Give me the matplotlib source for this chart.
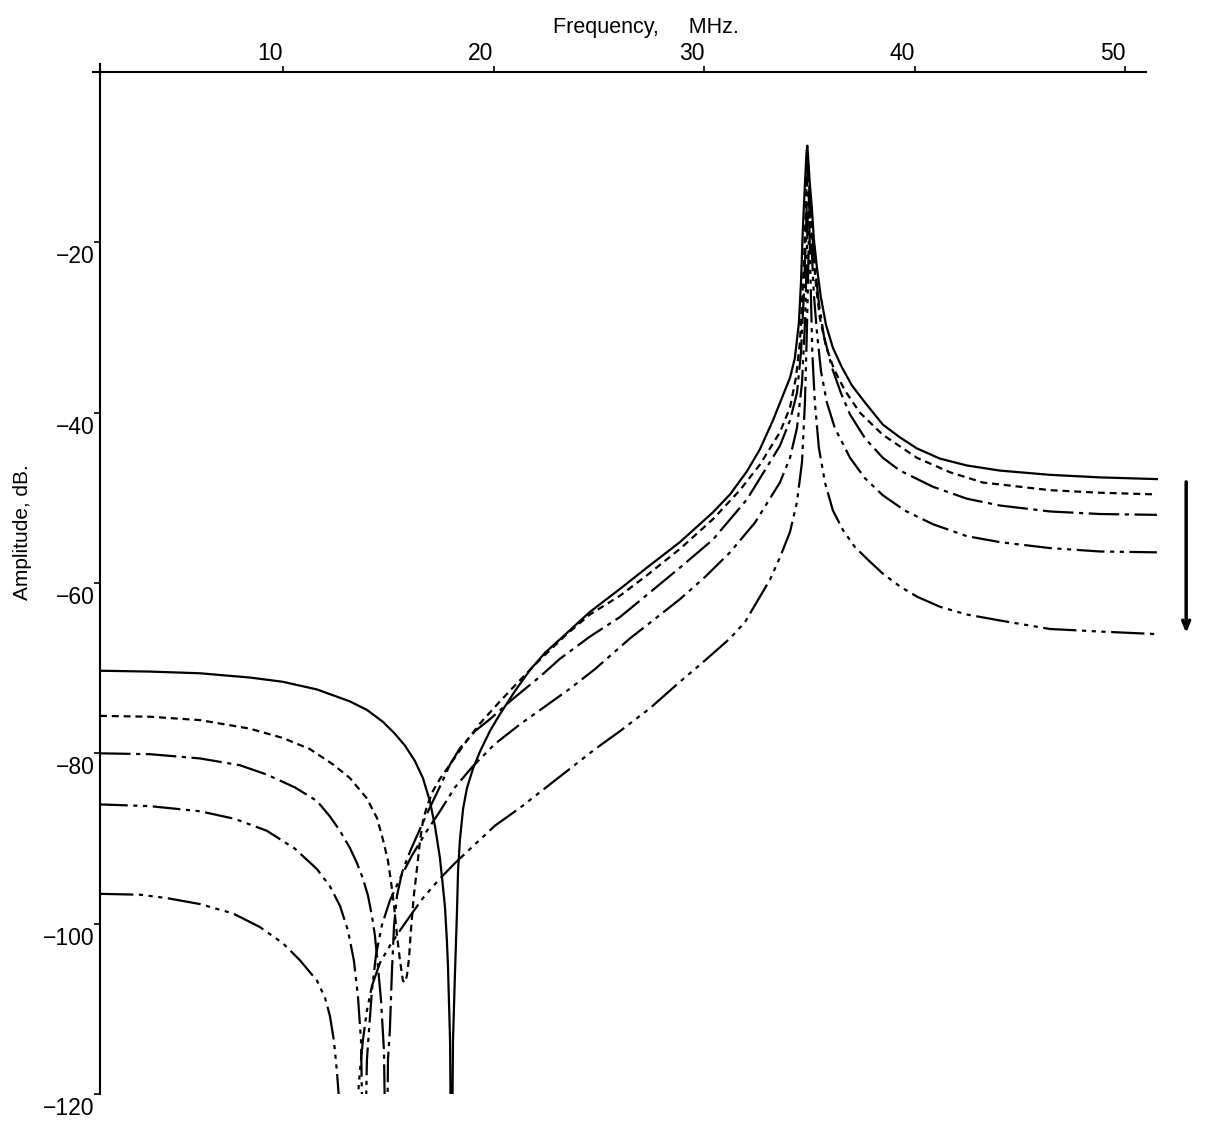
import matplotlib
matplotlib.use("Agg")
import matplotlib.pyplot as plt
from matplotlib import transforms

plt.rcParams['font.family'] = ['Liberation Sans', 'DejaVu Sans']
plt.rcParams['lines.scale_dashes'] = False

# frequency (MHz) and amplitude (dB), one pair per curve
# the -135 dB points sit inside the notches, below the -120 dB floor of the axes
f_1 = [1.30, 3.67, 6.05, 8.42, 9.99, 11.61, 13.17, 13.98, 14.74, 15.31,
       15.79, 16.26, 16.64, 16.97, 17.21, 17.45, 17.59, 17.69, 17.78, 17.83,
       17.93, 18.0, 18.07, 18.16, 18.26, 18.31, 18.40, 18.55, 18.73, 19.02,
       19.35, 19.82, 20.30, 21.01, 21.73, 22.44, 23.29, 24.57, 26.00, 27.28,
       28.85, 30.42, 31.23, 32.03, 32.65, 33.27, 33.74, 34.08, 34.31, 34.50,
       34.60, 34.69, 34.79, 34.86, 34.90, 34.93, 35.02, 35.12, 35.21, 35.36,
       35.55, 35.79, 36.12, 36.55, 37.02, 37.64, 38.49, 39.30, 40.11, 41.21,
       42.48, 44.05, 46.43, 48.80, 51.51]
db_1 = [-70.3, -70.4, -70.6, -71.1, -71.6, -72.5, -73.9, -74.9, -76.3, -77.7,
        -79.1, -80.9, -82.9, -85.6, -88.5, -92.3, -95.6, -98.1, -102.0, -104.9,
        -113.7, -135, -113.7, -106.1, -98.5, -93.8, -90.1, -86.5, -84.1, -81.8,
        -79.8, -77.4, -75.4, -72.7, -70.2, -68.2, -66.3, -63.4, -60.7, -58.2,
        -55.2, -51.7, -49.6, -46.9, -44.3, -40.9, -38.0, -35.9, -33.6, -29.5,
        -24.8, -18.4, -13.1, -9.6, -8.65, -9.6, -13.1, -16.0, -19.5, -23.0,
        -26.5, -29.7, -32.4, -34.7, -36.8, -38.8, -41.4, -42.9, -44.2, -45.4,
        -46.2, -46.8, -47.3, -47.6, -47.8]

f_2 = [1.30, 3.67, 6.05, 8.42, 9.99, 11.27, 12.37, 13.17, 13.98, 14.46,
       14.74, 14.98, 15.12, 15.27, 15.41, 15.55, 15.69, 15.79, 15.88, 15.98,
       16.07, 16.21, 16.36, 16.50, 16.64, 16.83, 17.12, 17.45, 17.93, 18.64,
       19.35, 20.30, 21.10, 22.20, 23.48, 24.57, 26.00, 27.28, 28.85, 30.42,
       31.70, 32.65, 33.60, 34.08, 34.36, 34.55, 34.65, 34.74, 34.84, 34.88,
       34.91, 34.98, 35.07, 35.17, 35.31, 35.50, 35.79, 36.17, 36.69, 37.40,
       38.49, 40.11, 41.68, 43.24, 46.43, 48.80, 51.51]
db_2 = [-75.6, -75.7, -76.1, -77.1, -78.2, -79.5, -81.3, -82.9, -85.3, -87.6,
        -90.1, -92.6, -95.0, -97.9, -101.4, -104.3, -106.7, -106.9, -106.1, -104.1,
        -100.8, -96.7, -93.5, -90.3, -88.0, -86.2, -84.4, -83.0, -81.3, -78.8,
        -76.5, -73.9, -71.8, -69.0, -66.0, -63.7, -61.5, -59.1, -56.0, -52.5,
        -49.1, -46.1, -42.3, -39.4, -35.9, -31.8, -27.1, -22.5, -15.4, -10.8,
        -9.8, -12.5, -16.6, -20.7, -25.0, -28.9, -32.2, -34.9, -37.4, -40.0,
        -42.6, -45.3, -47.0, -48.2, -49.1, -49.4, -49.6]

f_3 = [1.30, 3.67, 6.05, 7.95, 9.23, 10.56, 11.61, 12.22, 12.70, 13.17,
       13.51, 13.79, 14.03, 14.22, 14.36, 14.50, 14.65, 14.79, 14.91, 14.98,
       15.07, 15.17, 15.27, 15.41, 15.65, 16.03, 16.41, 16.83, 17.45, 17.93,
       18.40, 19.11, 19.82, 20.92, 22.20, 23.15, 24.57, 26.00, 27.28, 28.85,
       30.42, 32.03, 33.60, 34.08, 34.41, 34.60, 34.74, 34.84, 34.91, 34.93,
       35.02, 35.12, 35.26, 35.45, 35.69, 36.07, 36.50, 36.93, 37.64, 38.49,
       39.30, 40.87, 42.48, 44.05, 46.43, 48.80, 51.51]
db_3 = [-80.0, -80.1, -80.6, -81.4, -82.5, -84.0, -85.6, -87.4, -89.1, -91.1,
        -92.9, -94.7, -96.7, -99.1, -101.4, -104.9, -109.0, -114.9, -135, -116.0,
        -112.5, -105.5, -100.2, -96.7, -94.0, -91.5, -89.4, -87.1, -83.9, -81.3,
        -79.4, -77.4, -76.0, -73.6, -71.0, -68.9, -66.3, -64.0, -61.4, -58.2,
        -54.9, -50.2, -43.9, -40.9, -37.7, -33.0, -26.0, -18.9, -11.9, -10.8,
        -14.3, -18.4, -22.7, -27.1, -31.0, -34.7, -37.7, -40.2, -43.0, -45.3,
        -46.8, -48.7, -50.1, -50.9, -51.6, -51.9, -52.0]

f_4 = [1.30, 3.67, 6.05, 7.71, 9.23, 10.56, 11.61, 12.22, 12.70, 13.08,
       13.36, 13.55, 13.70, 13.84, 13.98, 14.08, 14.22, 14.41, 14.69, 15.07,
       15.55, 16.12, 16.83, 17.45, 18.16, 19.02, 20.06, 21.25, 22.44, 23.63,
       24.82, 26.48, 27.67, 28.85, 30.04, 31.23, 32.42, 33.60, 34.08, 34.41,
       34.65, 34.79, 34.88, 34.93, 34.95, 35.02, 35.12, 35.21, 35.36, 35.55,
       35.83, 36.21, 36.93, 37.64, 38.49, 39.54, 40.87, 42.48, 44.05, 46.43,
       48.80, 51.51]
db_4 = [-86.0, -86.2, -86.8, -87.7, -89.1, -91.2, -93.6, -95.6, -97.9, -100.8,
        -104.3, -108.4, -113.7, -135, -116.0, -112.5, -107.8, -103.7, -100.2, -97.3,
        -94.7, -92.0, -89.1, -86.8, -84.0, -81.5, -78.9, -76.6, -74.5, -72.4,
        -70.1, -66.5, -64.2, -61.9, -59.3, -56.4, -52.9, -48.2, -45.3, -41.8,
        -36.5, -29.5, -21.3, -16.0, -13.7, -17.2, -21.3, -26.0, -30.6, -35.1,
        -38.8, -41.8, -45.3, -47.7, -49.7, -51.5, -53.1, -54.5, -55.2, -55.9,
        -56.3, -56.4]

f_5 = [1.30, 3.20, 4.48, 6.05, 7.62, 8.90, 9.99, 10.80, 11.61, 11.99,
       12.22, 12.41, 12.55, 13.1, 13.65, 13.79, 13.98, 14.22, 14.60, 15.07,
       15.55, 16.03, 16.64, 17.45, 18.16, 19.02, 20.06, 21.25, 22.44, 23.63,
       24.82, 26.00, 27.43, 28.85, 30.04, 31.23, 31.94, 32.51, 33.13, 33.60,
       34.08, 34.41, 34.65, 34.79, 34.88, 34.95, 34.99, 35.02, 35.07, 35.14,
       35.26, 35.45, 35.74, 36.12, 36.60, 37.17, 37.88, 38.49, 39.30, 40.11,
       41.21, 42.48, 44.05, 46.43, 48.80, 51.51]
db_5 = [-96.5, -96.6, -97.0, -97.7, -98.8, -100.4, -102.3, -104.3, -106.7, -108.7,
        -110.8, -113.7, -117.2, -135, -117.2, -113.7, -110.2, -107.3, -104.6, -102.6,
        -100.8, -99.1, -97.0, -94.7, -92.9, -90.9, -88.5, -86.4, -84.1, -81.8,
        -79.5, -77.4, -74.7, -71.6, -69.1, -66.5, -64.6, -62.2, -59.6, -57.0,
        -54.0, -50.5, -45.8, -38.8, -30.6, -22.5, -17.2, -20.1, -26.0, -33.0,
        -38.8, -44.1, -48.2, -51.5, -53.8, -55.8, -57.5, -58.9, -60.4, -61.6,
        -62.8, -63.7, -64.4, -65.4, -65.7, -66.0]

x_ticks = [10, 20, 30, 40, 50]
y_ticks = [-20, -40, -60, -80, -100, -120]

curves = [(f_1, db_1, None),
          (f_2, db_2, (5, 3.5)),
          (f_3, db_3, (22, 4, 3, 4)),
          (f_4, db_4, (20, 4, 3, 4, 3, 4)),
          (f_5, db_5, (24, 4, 3, 4, 3, 4, 3, 4))]

fig = plt.figure(figsize=(12.09, 11.27), dpi=100)
ax = fig.add_axes([100 / 1209, 1 - 1094 / 1127, 1058.8 / 1209, 1022 / 1127])

for f, db, dash in curves:
    line, = ax.plot(f, db, color='black', lw=1.6,
                    solid_joinstyle='round', dash_joinstyle='round')
    if dash:
        line.set_dashes(dash)

ax.set_xlim(1.3, 51.6)
ax.set_ylim(-120, 0)

ax.spines['right'].set_visible(False)
ax.spines['bottom'].set_visible(False)
ax.spines['top'].set_bounds(1.3, 51.0)
ax.spines['top'].set_linewidth(1.5)
ax.spines['left'].set_linewidth(1.5)
# small overshoot where the two axis lines cross
ax.plot([-0.007, 0], [1, 1], transform=ax.transAxes, color='black', lw=1.5, clip_on=False)
ax.plot([0, 0], [1, 1.008], transform=ax.transAxes, color='black', lw=1.5, clip_on=False)

ax.xaxis.tick_top()
ax.set_xticks(x_ticks)
ax.set_xticklabels([str(t) for t in x_ticks], ha='right', fontsize=16.5)
ax.tick_params(axis='x', direction='out', length=4, width=1.2, pad=1)

ax.set_yticks(y_ticks)
ax.set_yticklabels(['\u2212' + str(-t) for t in y_ticks], fontsize=16.5)
ax.tick_params(axis='y', direction='out', length=4, width=1.2, pad=0)
shift = transforms.ScaledTranslation(0, -0.12, fig.dpi_scale_trans)
for lab in ax.get_yticklabels():
    lab.set_transform(lab.get_transform() + shift)

fig.text(646 / 1209, 1 - 27 / 1127, 'Frequency,     MHz.', ha='center', va='center', fontsize=15.5)
fig.text(22 / 1209, 1 - 532 / 1127, 'Amplitude, dB.', ha='center', va='center', rotation=90, fontsize=15)

# arrow on the right: the way the curves move
ax.annotate('', xy=(52.9, -66.2), xytext=(52.9, -47.8), annotation_clip=False,
            arrowprops=dict(arrowstyle='->,head_length=0.6,head_width=0.25', lw=2.5, color='black'))

fig.savefig('out.png', dpi=100, facecolor='white')
